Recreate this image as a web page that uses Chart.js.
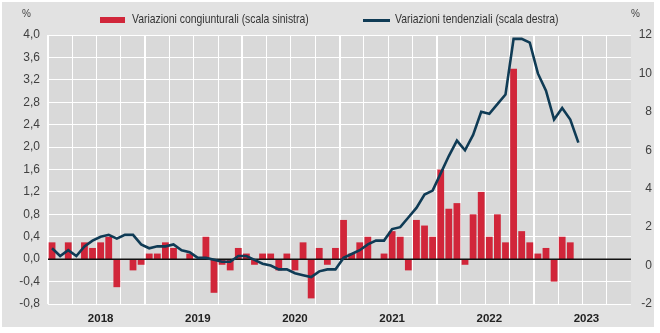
<!DOCTYPE html>
<html>
<head>
<meta charset="utf-8">
<script src="https://cdn.jsdelivr.net/npm/chart.js@4"></script>
<style>
  html, body { margin: 0; padding: 0; background: #fff; }
  #wrap { position: absolute; left: 2px; top: 2px; width: 652px; height: 325px; background: #e2e2e2; }
  #chart { position: absolute; left: 0; top: 0; }
  .lbl { position: absolute; font-family: "Liberation Sans", Arial, sans-serif; font-size: 13px; color: #333; white-space: nowrap; transform: scaleX(0.8); transform-origin: 0 50%; }
  .pct { position: absolute; font-family: "Liberation Sans", Arial, sans-serif; font-size: 10px; color: #444; }
  .box { position: absolute; }
</style>
</head>
<body>
<div id="wrap"></div>
<canvas id="chart" width="660" height="333"></canvas>
<div class="pct" style="left:22px;top:8px;">%</div>
<div class="pct" style="left:631px;top:8px;">%</div>
<div class="box" style="left:100px;top:17px;width:25px;height:6px;background:#d1263a;"></div>
<div class="lbl" style="left:132px;top:11px;">Variazioni congiunturali (scala sinistra)</div>
<div class="box" style="left:363px;top:19px;width:27px;height:3px;background:#0f3b55;"></div>
<div class="lbl" style="left:395px;top:11px;">Variazioni tendenziali (scala destra)</div>
<script>
const years = ['2018', '2019', '2020', '2021', '2022', '2023'];

// variazioni congiunturali (%), gen 2018 - giu 2023
const congiunturali = [
  0.3, 0.0, 0.3, 0.0, 0.3, 0.2, 0.3, 0.4, -0.5, 0.0, -0.2, -0.1,
  0.1, 0.1, 0.3, 0.2, 0.0, 0.1, 0.0, 0.4, -0.6, -0.1, -0.2, 0.2,
  0.1, -0.1, 0.1, 0.1, -0.2, 0.1, -0.2, 0.3, -0.7, 0.2, -0.1, 0.2,
  0.7, 0.1, 0.3, 0.4, 0.0, 0.1, 0.5, 0.4, -0.2, 0.7, 0.6, 0.4,
  1.6, 0.9, 1.0, -0.1, 0.8, 1.2, 0.4, 0.8, 0.3, 3.4, 0.5, 0.3,
  0.1, 0.2, -0.4, 0.4, 0.3, 0.0
];

// variazioni tendenziali (%), gen 2018 - giu 2023
const tendenziali = [
  0.9, 0.5, 0.8, 0.5, 1.0, 1.3, 1.5, 1.6, 1.4, 1.6, 1.6, 1.1,
  0.9, 1.0, 1.0, 1.1, 0.8, 0.7, 0.4, 0.4, 0.3, 0.2, 0.2, 0.5,
  0.5, 0.3, 0.1, 0.0, -0.2, -0.2, -0.4, -0.5, -0.6, -0.3, -0.2, -0.2,
  0.4, 0.6, 0.8, 1.1, 1.3, 1.3, 1.9, 2.0, 2.5, 3.0, 3.7, 3.9,
  4.8, 5.7, 6.5, 6.0, 6.8, 8.0, 7.9, 8.4, 8.9, 11.8, 11.8, 11.6,
  10.0, 9.1, 7.6, 8.2, 7.6, 6.4
];

const months = [];
years.forEach(y => { for (let m = 1; m <= 12; m++) months.push(y + '-' + String(m).padStart(2, '0')); });

const plotBg = {
  id: 'plotBg',
  beforeDraw(chart) {
    const { ctx, chartArea: a } = chart;
    ctx.save();
    ctx.fillStyle = '#d9d9d9';
    ctx.fillRect(a.left, a.top, a.right - a.left, a.bottom - a.top);
    ctx.restore();
  }
};

// linea dello zero sopra le barre, sotto la linea
const zeroLine = {
  id: 'zeroLine',
  afterDatasetDraw(chart, args) {
    if (args.meta.type !== 'bar') return;
    const { ctx, chartArea: a, scales: { y } } = chart;
    const py = y.getPixelForValue(0);
    ctx.save();
    ctx.strokeStyle = '#111';
    ctx.lineWidth = 1.5;
    ctx.beginPath();
    ctx.moveTo(a.left, py);
    ctx.lineTo(a.right, py);
    ctx.stroke();
    ctx.restore();
  }
};

const tickFont = { family: '"Liberation Sans", Arial, sans-serif', size: 12 };

new Chart(document.getElementById('chart'), {
  type: 'bar',
  data: {
    labels: months,
    datasets: [
      {
        type: 'line',
        label: 'Variazioni tendenziali (scala destra)',
        data: tendenziali,
        yAxisID: 'y1',
        borderColor: '#0f3b55',
        borderWidth: 2.6,
        pointRadius: 0,
        tension: 0,
        order: 0
      },
      {
        type: 'bar',
        label: 'Variazioni congiunturali (scala sinistra)',
        data: congiunturali,
        yAxisID: 'y',
        backgroundColor: '#d1263a',
        categoryPercentage: 1,
        barPercentage: 0.84,
        order: 1
      }
    ]
  },
  options: {
    responsive: false,
    animation: false,
    layout: { padding: { top: 35, right: 8, left: 0, bottom: 0 } },
    plugins: { legend: { display: false }, tooltip: { enabled: false } },
    scales: {
      x: {
        offset: true,
        grid: {
          offset: true,
          drawTicks: false,
          color: ctx => (ctx.index % 3 === 0 ? '#ffffff' : 'rgba(0,0,0,0)'),
          lineWidth: ctx => (ctx.index % 12 === 0 ? 2 : 1)
        },
        border: { display: false },
        ticks: {
          autoSkip: false,
          maxRotation: 0,
          padding: 8,
          color: '#222',
          font: { family: '"Liberation Sans", Arial, sans-serif', size: 11.5, weight: 'bold' },
          callback: (v, i) => (i % 12 === 6 ? years[Math.floor(i / 12)] : '')
        },
        afterFit: s => { s.height = 29; }
      },
      y: {
        position: 'left',
        min: -0.8,
        max: 4.0,
        ticks: {
          stepSize: 0.4,
          padding: 8,
          color: '#404040',
          font: tickFont,
          callback: v => (Math.abs(v) < 1e-9 ? 0 : v).toFixed(1).replace('.', ',')
        },
        grid: { color: '#ffffff', lineWidth: 1, drawTicks: false },
        border: { display: false },
        afterFit: s => { s.width = 48; }
      },
      y1: {
        position: 'right',
        min: -2,
        max: 12,
        ticks: {
          stepSize: 2,
          padding: 0,
          crossAlign: 'far',
          color: '#404040',
          font: tickFont
        },
        grid: { drawOnChartArea: false, drawTicks: false },
        border: { display: false },
        afterFit: s => { s.width = 21; }
      }
    }
  },
  plugins: [plotBg, zeroLine]
});
</script>
</body>
</html>
